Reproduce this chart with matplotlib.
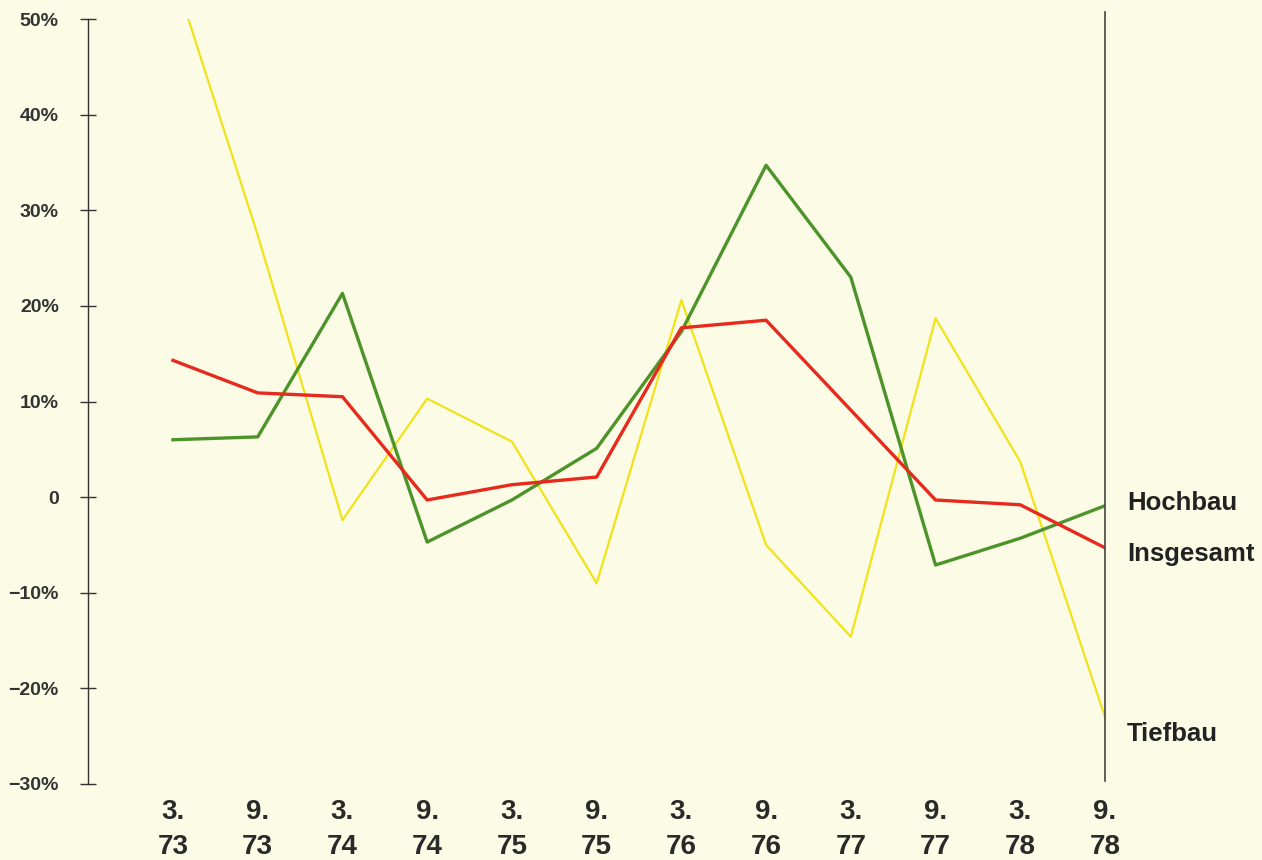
import numpy as np
import matplotlib.pyplot as plt

# Veränderung gegenüber Vorjahresmonat, %
perioden = ["3.\n73", "9.\n73", "3.\n74", "9.\n74", "3.\n75", "9.\n75",
            "3.\n76", "9.\n76", "3.\n77", "9.\n77", "3.\n78", "9.\n78"]
tiefbau = [55.0, 27.4, -2.4, 10.3, 5.8, -9.0, 20.6, -5.0, -14.6, 18.7, 3.7, -23.0]
hochbau = [6.0, 6.3, 21.3, -4.7, -0.3, 5.1, 17.3, 34.7, 23.0, -7.1, -4.3, -0.9]
insgesamt = [14.3, 10.9, 10.5, -0.3, 1.3, 2.1, 17.7, 18.5, 9.1, -0.3, -0.8, -5.3]
y_ticks = [-30, -20, -10, 0, 10, 20, 30, 40, 50]
y_labels = ["\u221230%", "\u221220%", "\u221210%", "0", "10%", "20%", "30%", "40%", "50%"]

bg = "#fbfbe6"
plt.rcParams['font.family'] = ['Liberation Sans', 'DejaVu Sans']

fig = plt.figure(figsize=(12.62, 8.6), dpi=100, facecolor=bg)
W, H = 1262, 860
# axes from y-axis line (x=88) to right line (x=1105), 50% at y=19, -30% at y=784
ax = fig.add_axes([88 / W, (H - 784) / H, (1105 - 88) / W, (784 - 19) / H])
ax.set_facecolor(bg)

x = np.arange(len(perioden))
ax.plot(x, tiefbau, color="#f0e31a", lw=1.6, zorder=2)
ax.plot(x, hochbau, color="#4c942a", lw=2.4, zorder=3)
ax.plot(x, insgesamt, color="#e62a1e", lw=2.4, zorder=4)

ax.set_xlim(-1.003, 11)
ax.set_ylim(-30, 50)

for s in ["top", "right", "bottom"]:
    ax.spines[s].set_visible(False)
ax.spines["left"].set_color("#333333")
ax.spines["left"].set_linewidth(1.0)

# right-hand reference line at last period
ax.plot([11, 11], [-29.7, 50.7], color="#444444", lw=1.2, clip_on=False, zorder=5)

ax.set_yticks(y_ticks)
ax.set_yticklabels(y_labels, fontsize=14, fontweight="bold", color="#333333")
ax.tick_params(axis="y", direction="inout", length=12, width=1.0, color="#333333", pad=15)

ax.set_xticks(x)
ax.set_xticklabels(perioden, fontsize=20, fontweight="bold", color="#2a2a2a", linespacing=1.45)
ax.tick_params(axis="x", length=0, pad=11)

# Beschriftung der Linien am rechten Rand
label_offsets = [2, -4.5, -12]
for name, val, dy in zip(["Hochbau", "Insgesamt", "Tiefbau"],
                         [hochbau[-1], insgesamt[-1], tiefbau[-1]], label_offsets):
    ax.annotate(name, xy=(11, val), xytext=(16, dy), textcoords="offset points",
                fontsize=18.5, fontweight="bold", color="#222222", va="center", ha="left")

fig.savefig("out.png", dpi=100, facecolor=bg)
